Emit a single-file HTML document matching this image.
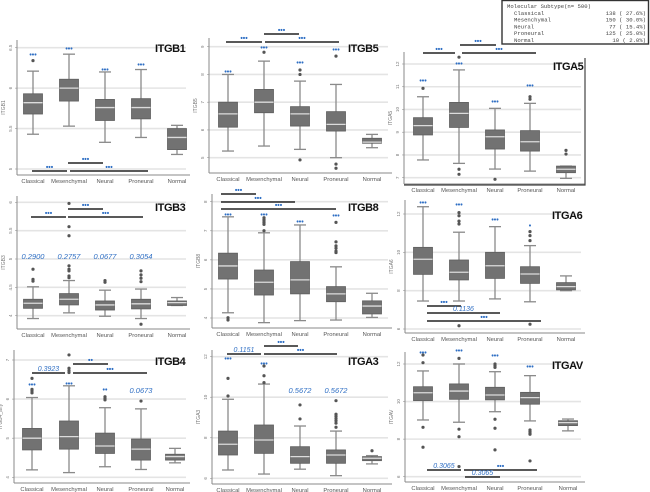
<!DOCTYPE html>
<html><head><meta charset="utf-8">
<style>
html,body{margin:0;padding:0;background:#fff;}
svg{display:block;font-family:"Liberation Sans",sans-serif;}
</style></head>
<body>
<svg id="fig" width="650" height="492" viewBox="0 0 650 492" xmlns="http://www.w3.org/2000/svg"></svg>
<script>
// ---- data ----
const categories = ["Classical","Mesenchymal","Neural","Proneural","Normal"];

const ITGB1_wHi=[6.21,6.42,6.20,6.23,5.54], ITGB1_q3=[5.93,6.11,5.86,5.87,5.50], ITGB1_med=[5.82,6.00,5.76,5.76,5.39], ITGB1_q1=[5.68,5.84,5.60,5.62,5.24], ITGB1_wLo=[5.43,5.53,5.33,5.39,5.18];
const ITGB1_out=[[0,6.34]];
const ITGB1_ticks=[6.5,6,5.5,5];

const ITGB5_wHi=[8.0,8.48,7.76,7.64,5.84], ITGB5_q3=[7.0,7.46,6.84,6.66,5.70], ITGB5_med=[6.58,7.0,6.58,6.2,5.56], ITGB5_q1=[6.1,6.62,6.14,5.96,5.52], ITGB5_wLo=[5.24,5.42,5.3,5.0,5.36];
const ITGB5_out=[[1,8.8],[2,8.16],[2,8.0],[2,4.92],[3,8.66],[3,4.77],[3,4.62]];
const ITGB5_ticks=[9,8,7,6,5];

const ITGA5_wHi=[10.56,11.74,10.05,10.27,7.51], ITGA5_q3=[9.64,10.31,9.1,9.07,7.51], ITGA5_med=[9.29,9.83,8.8,8.58,7.37], ITGA5_q1=[8.88,9.21,8.26,8.17,7.22], ITGA5_wLo=[7.78,7.63,7.38,7.29,6.97];
const ITGA5_out=[[0,10.93],[1,12.3],[1,7.37],[1,7.15],[2,6.93],[3,10.56],[3,10.45],[4,8.2],[4,8.04]];
const ITGA5_ticks=[12,11,10,9,8,7];

const ITGB3_wHi=[4.51,4.62,4.45,4.47,4.32], ITGB3_q3=[4.29,4.39,4.26,4.29,4.26], ITGB3_med=[4.22,4.29,4.19,4.21,4.23], ITGB3_q1=[4.13,4.19,4.10,4.12,4.18], ITGB3_wLo=[3.95,4.05,3.99,3.95,4.18];
const ITGB3_out=[[0,4.82],[0,4.64],[0,4.61],[1,5.98],[1,5.57],[1,5.41],[1,4.88],[1,4.82],[1,4.79],[1,4.70],[1,4.67],[2,4.62],[2,4.59],[3,4.79],[3,4.72],[3,4.66],[3,4.60],[3,3.85]];
const ITGB3_ticks=[6,5.5,5,4.5,4];

const ITGB8_wHi=[7.48,6.93,7.2,5.76,4.85], ITGB8_q3=[6.23,5.65,5.94,5.08,4.59], ITGB8_med=[5.79,5.23,5.31,4.83,4.41], ITGB8_q1=[5.34,4.79,4.83,4.56,4.14], ITGB8_wLo=[4.18,3.84,3.91,3.93,4.02];
const ITGB8_out=[[0,4.01],[0,3.93],[1,7.45],[1,7.39],[1,7.34],[1,7.28],[1,7.22],[1,7.0],[3,7.29],[3,6.62],[3,6.48],[3,6.40],[3,6.30],[3,6.25]];
const ITGB8_ticks=[8,7,6,5,4];

const ITGA6_wHi=[12.38,11.05,11.34,10.35,8.77], ITGA6_q3=[10.26,9.6,10.0,9.25,8.42], ITGA6_med=[9.64,8.96,9.30,8.87,8.21], ITGA6_q1=[8.85,8.56,8.64,8.38,8.04], ITGA6_wLo=[7.46,7.46,7.57,7.42,8.0];
const ITGA6_out=[[1,12.07],[1,11.91],[1,11.63],[1,11.48],[3,11.08],[3,10.87],[3,10.61],[1,6.17],[3,6.25]];
const ITGA6_ticks=[12,10,8,6];

const ITGB4_wHi=[6.04,6.34,5.78,5.75,4.74], ITGB4_q3=[5.25,5.44,5.13,4.98,4.59], ITGB4_med=[5.0,5.04,4.80,4.72,4.53], ITGB4_q1=[4.70,4.72,4.61,4.44,4.44], ITGB4_wLo=[4.19,4.12,4.27,4.20,4.37];
const ITGB4_out=[[0,6.53],[0,6.25],[0,6.21],[0,6.16],[1,7.13],[1,6.79],[1,6.73],[1,6.68],[2,6.06],[2,6.02],[2,5.98],[3,5.95]];
const ITGB4_ticks=[7,6,5,4];

const ITGA3_wHi=[9.9,10.65,8.58,8.33,7.12], ITGA3_q3=[8.33,8.63,7.56,7.40,7.07], ITGA3_med=[7.68,7.89,7.07,7.15,6.99], ITGA3_q1=[7.15,7.23,6.74,6.74,6.87], ITGA3_wLo=[6.41,6.21,6.45,6.13,6.71];
const ITGA3_out=[[0,10.93],[0,10.06],[1,11.54],[1,11.06],[1,10.72],[2,9.62],[2,8.93],[3,9.83],[3,9.16],[3,9.06],[3,8.95],[3,8.84],[3,8.72],[3,8.52],[4,7.36]];
const ITGA3_ticks=[12,10,8,6];

const ITGAV_wHi=[11.63,12.0,11.59,11.38,9.07], ITGAV_q3=[10.79,10.94,10.76,10.49,8.98], ITGAV_med=[10.47,10.56,10.35,10.21,8.88], ITGAV_q1=[10.05,10.12,10.09,9.86,8.72], ITGAV_wLo=[9.02,8.90,9.46,8.97,8.44];
const ITGAV_out=[[0,12.48],[0,12.07],[0,8.63],[0,7.57],[1,12.3],[1,8.53],[1,8.13],[1,6.54],[2,12.0],[2,11.91],[2,11.82],[2,9.06],[2,8.58],[2,7.43],[3,8.49],[3,8.40],[3,8.31],[3,8.26],[3,6.84]];
const ITGAV_ticks=[12,10,8,6];

const legendRows=[["Classical","138 ( 27.6%)"],["Mesenchymal","150 ( 30.0%)"],["Neural","77 ( 15.4%)"],["Proneural","125 ( 25.0%)"],["Normal","10 ( 2.0%)"]];

// ---- layout (pixels) ----
const panels=[
 {name:"ITGB1",ylab:"ITGB1",ax:17,ab:175,at:40,ar:190,cx:[33,69,105,141,177],top:[6.5,47.7],bot:[5,169],d:[ITGB1_wHi,ITGB1_q3,ITGB1_med,ITGB1_q1,ITGB1_wLo],out:ITGB1_out,ticks:ITGB1_ticks,
  stars:[["***",0,54],["***",1,48],["***",2,69],["***",3,64]],
  bars:[[32,67,171,"***",0],[68,103,163,"***",0],[70,148,171,"***",0]],title:[155,52]},
 {name:"ITGB5",ylab:"ITGB5",ax:209,ab:173,at:38,ar:392,cx:[228,264,300,336,372],top:[9,46.7],bot:[5,157.7],d:[ITGB5_wHi,ITGB5_q3,ITGB5_med,ITGB5_q1,ITGB5_wLo],out:ITGB5_out,ticks:ITGB5_ticks,
  stars:[["***",0,71],["***",1,47],["***",2,62],["***",3,49]],
  bars:[[226,262,42,"***",0],[264,299,34,"***",0],[265,339,42,"***",0]],title:[348,52]},
 {name:"ITGA5",ylab:"ITGA5",ax:404,ab:184,at:52,ar:585,cx:[423,459,495,530,566],top:[12,64],bot:[7,177.7],d:[ITGA5_wHi,ITGA5_q3,ITGA5_med,ITGA5_q1,ITGA5_wLo],out:ITGA5_out,ticks:ITGA5_ticks,frame:true,
  stars:[["***",0,80],["***",1,63],["***",2,101],["***",3,85]],
  bars:[[423,455,53,"***",0],[460,496,45,"***",0],[462,536,53,"***",0]],title:[553,70]},
 {name:"ITGB3",ylab:"ITGB3",ax:17,ab:329,at:196,ar:190,cx:[33,69,105,141,177],top:[6,202.3],bot:[4,315.7],d:[ITGB3_wHi,ITGB3_q3,ITGB3_med,ITGB3_q1,ITGB3_wLo],out:ITGB3_out,ticks:ITGB3_ticks,
  stars:[["0.2900",0,259,1],["0.2757",1,259,1],["0.0677",2,259,1],["0.3054",3,259,1]],
  bars:[[31,66,217,"***",0],[68,103,209,"***",0],[68,143,217,"***",0]],title:[155,211]},
 {name:"ITGB8",ylab:"ITGB8",ax:212,ab:328,at:194,ar:392,cx:[228,264,300,336,372],top:[8,201.7],bot:[4,318],d:[ITGB8_wHi,ITGB8_q3,ITGB8_med,ITGB8_q1,ITGB8_wLo],out:ITGB8_out,ticks:ITGB8_ticks,
  stars:[["***",0,214],["***",1,214],["***",2,221],["***",3,215]],
  bars:[[221,256,194,"***",0],[221,295,202,"***",0],[221,336,209,"***",0]],title:[348,211]},
 {name:"ITGA6",ylab:"ITGA6",ax:405,ab:333,at:200,ar:585,cx:[423,459,495,530,566],top:[12,214],bot:[6,329],d:[ITGA6_wHi,ITGA6_q3,ITGA6_med,ITGA6_q1,ITGA6_wLo],out:ITGA6_out,ticks:ITGA6_ticks,
  stars:[["***",0,202],["***",1,204],["***",2,219],["*",3,225]],
  bars:[[427,461,306,"***",0],[427,500,313,"0.1136",1],[427,541,321,"***",0]],title:[552,219]},
 {name:"ITGB4",ylab:"ITGB4_affy",ax:14,ab:483,at:350,ar:190,cx:[32,69,105,141,175],top:[7,360],bot:[4,477.3],d:[ITGB4_wHi,ITGB4_q3,ITGB4_med,ITGB4_q1,ITGB4_wLo],out:ITGB4_out,ticks:ITGB4_ticks,
  stars:[["***",0,384],["***",1,383],["**",2,389],["0.0673",3,393,1]],
  bars:[[32,65,373,"0.3923",1],[73,108,364,"**",0],[73,147,373,"***",0]],title:[155,365]},
 {name:"ITGA3",ylab:"ITGA3",ax:212,ab:484,at:350,ar:392,cx:[228,264,300,336,372],top:[12,356.7],bot:[6,478.3],d:[ITGA3_wHi,ITGA3_q3,ITGA3_med,ITGA3_q1,ITGA3_wLo],out:ITGA3_out,ticks:ITGA3_ticks,
  stars:[["***",0,358],["***",1,363],["0.5672",2,393,1],["0.5672",3,393,1]],
  bars:[[227,261,354,"0.1151",1],[264,298,346,"***",0],[264,337,354,"***",0]],title:[348,365]},
 {name:"ITGAV",ylab:"ITGAV",ax:405,ab:482,at:352,ar:585,cx:[423,459,495,530,568],top:[12,364],bot:[6,476.7],d:[ITGAV_wHi,ITGAV_q3,ITGAV_med,ITGAV_q1,ITGAV_wLo],out:ITGAV_out,ticks:ITGAV_ticks,
  stars:[["***",0,352],["***",1,350],["***",2,355],["***",3,366]],
  bars:[[427,461,470,"0.3065",1],[464,537,470,"***",0],[465,500,477,"0.3065",1]],title:[552,369]}
];

const NS="http://www.w3.org/2000/svg";
const svg=document.getElementById("fig");
function mk(tag,attrs,parent,txt){const e=document.createElementNS(NS,tag);for(const k in attrs)e.setAttribute(k,attrs[k]);if(txt!==undefined)e.textContent=txt;(parent||svg).appendChild(e);return e;}

panels.forEach(p=>{
  const g=mk("g",{});
  
  
  const k=(p.top[1]-p.bot[1])/(p.top[0]-p.bot[0]);
  const y=v=>p.top[1]+(v-p.top[0])*k;
  p.ticks.forEach(t=>{
    const gl=mk("line",{x1:p.ax,x2:p.ar-4,y1:y(t),y2:y(t),stroke:"#e4e4e4","stroke-width":1.6},g);
    
    
    mk("line",{x1:p.ax-2,x2:p.ax,y1:y(t),y2:y(t),stroke:"#999","stroke-width":0.6},g);
    const tl=mk("text",{x:p.ax-5,y:y(t),"font-size":4.5,fill:"#777","text-anchor":"middle",transform:`rotate(-90 ${p.ax-5} ${y(t)})`},g,String(t));
    
    
  });
  const ay=mk("line",{x1:p.ax,x2:p.ax,y1:p.at,y2:p.ab,stroke:"#888","stroke-width":1},g);
  
  
  const axl=mk("line",{x1:p.ax,x2:p.ar,y1:p.ab,y2:p.ab,stroke:"#888","stroke-width":1},g);
  
  
  if(p.frame){
    const fr=mk("polyline",{points:`${p.ar},${p.at+6} ${p.ar},${p.ab+1} ${p.ax},${p.ab+1}`,fill:"none",stroke:"#444","stroke-width":1.2},g);
    
    
  }
  const yt=mk("text",{x:p.ax-12,y:(p.at+p.ab)/2,"font-size":5,fill:"#777","text-anchor":"middle",transform:`rotate(-90 ${p.ax-12} ${(p.at+p.ab)/2})`},g,p.ylab);
  
  
  categories.forEach((c,i)=>{
    const xl=mk("text",{x:p.cx[i],y:p.ab+8,"font-size":5.8,fill:"#555","text-anchor":"middle"},g,c);
    
    
  });
  const [wHi,q3,med,q1,wLo]=p.d;
  categories.forEach((c,i)=>{
    const cx=p.cx[i], bw=19, cw=12;
    const bg=mk("g",{},g);
    
    
    mk("line",{x1:cx,x2:cx,y1:y(wHi[i]),y2:y(wLo[i]),stroke:"#8a8a8a","stroke-width":1.3},bg);
    mk("line",{x1:cx-cw/2,x2:cx+cw/2,y1:y(wHi[i]),y2:y(wHi[i]),stroke:"#8a8a8a","stroke-width":1.3},bg);
    mk("line",{x1:cx-cw/2,x2:cx+cw/2,y1:y(wLo[i]),y2:y(wLo[i]),stroke:"#8a8a8a","stroke-width":1.3},bg);
    mk("rect",{x:cx-bw/2,y:y(q3[i]),width:bw,height:Math.max(1,y(q1[i])-y(q3[i])),fill:"#727272",stroke:"#5e5e5e","stroke-width":0.8},bg);
    mk("line",{x1:cx-bw/2,x2:cx+bw/2,y1:y(med[i]),y2:y(med[i]),stroke:"#dcdcdc","stroke-width":1.3},bg);
  });
  p.out.forEach(o=>{
    const c=mk("circle",{cx:p.cx[o[0]],cy:y(o[1]),r:1.6,fill:"#555"},g);
    
    
  });
  p.stars.forEach(s=>{
    const it=s[3]===1;
    const t=mk("text",{x:p.cx[s[1]],y:s[2]+(it?0:3),"font-size":it?7.5:7,"font-style":it?"italic":"normal","font-weight":it?"normal":"bold",fill:"#2f6fc4","text-anchor":"middle"},g,it?s[0]:s[0].replace(/\*/g,"•"));
    
    
  });
  p.bars.forEach(b=>{
    const l=mk("line",{x1:b[0],x2:b[1],y1:b[2],y2:b[2],stroke:"#222","stroke-width":1.4},g);
    
    
    const it=b[4]===1;
    const t=mk("text",{x:(b[0]+b[1])/2,y:b[2]-(it?2:1.5),"font-size":it?7:7,"font-style":it?"italic":"normal","font-weight":it?"normal":"bold",fill:"#2f6fc4","text-anchor":"middle"},g,it?b[3]:b[3].replace(/\*/g,"•"));
    
    
  });
  const tt=mk("text",{x:p.title[0],y:p.title[1],"font-size":11,"font-weight":"bold",fill:"#111","letter-spacing":-0.4},g,p.name);
  
  
});

const lg=mk("g",{});


mk("rect",{x:502,y:0.5,width:146.5,height:43.5,fill:"#fff",stroke:"#333","stroke-width":1.4},lg);
const mono={"font-family":"Liberation Mono, monospace","font-size":5.6,fill:"#444"};
const hd=mk("text",Object.assign({x:507,y:8},mono),lg,"Molecular Subtype(n=  500)");


legendRows.forEach((r,i)=>{
  const yy=15+i*6.7;
  const a=mk("text",Object.assign({x:514,y:yy},mono),lg,r[0]);
  
  
  const b=mk("text",Object.assign({x:646,y:yy,"text-anchor":"end"},mono),lg,r[1]);
  
  
});
</script>
</body></html>
